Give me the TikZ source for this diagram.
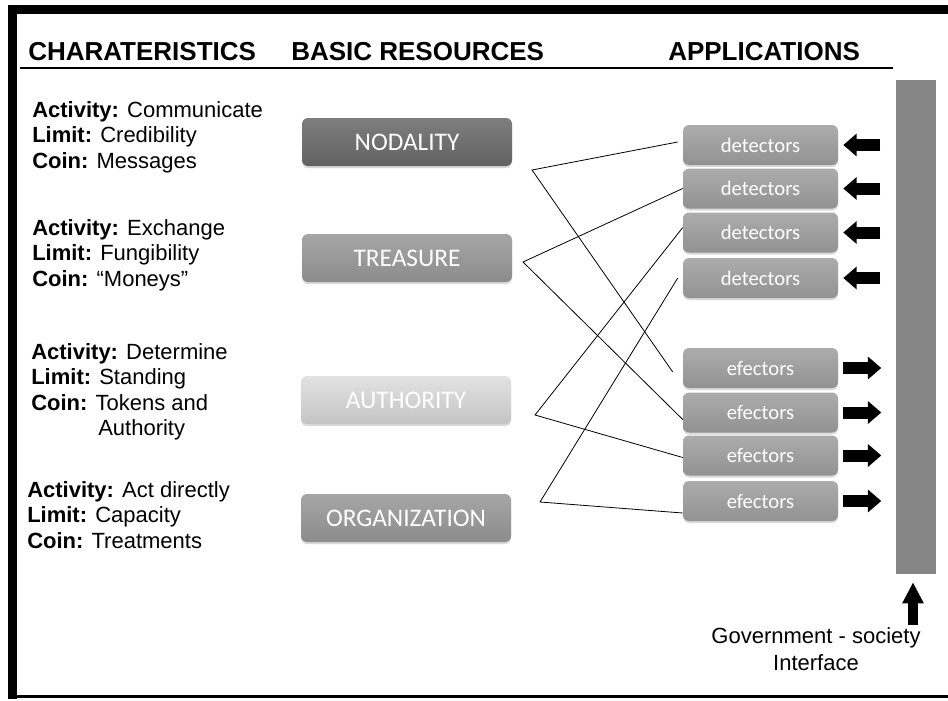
\documentclass[tikz,border=0pt]{standalone}
\usepackage{fontspec}
\setmainfont{Liberation Sans}
\newfontfamily\calfont{Carlito}
\usetikzlibrary{arrows.meta,shadows,calc}

\definecolor{barGray}{RGB}{134,134,134}
\definecolor{nodTop}{RGB}{126,126,126}
\definecolor{nodBot}{RGB}{98,98,98}
\definecolor{midTop}{RGB}{166,166,166}
\definecolor{midBot}{RGB}{140,140,140}
\definecolor{autTop}{RGB}{226,226,226}
\definecolor{autBot}{RGB}{196,196,196}
\definecolor{appTop}{RGB}{172,172,172}
\definecolor{appBot}{RGB}{146,146,146}

\tikzset{
  resbox/.style={rounded corners=4.5pt, minimum width=157.5pt, minimum height=36pt, inner sep=0pt, text=white,
    font=\calfont\fontsize{19}{22}\selectfont, drop shadow={shadow xshift=0pt, shadow yshift=-1.5pt, opacity=.3}},
  appbox/.style={rounded corners=4.5pt, minimum width=116.25pt, minimum height=30pt, inner sep=0pt, text=white,
    top color=appTop, bottom color=appBot, font=\calfont\fontsize{15.5}{18}\selectfont,
    drop shadow={shadow xshift=0pt, shadow yshift=-1.5pt, opacity=.3}},
  header/.style={anchor=base west, inner sep=0pt, font=\bfseries\fontsize{19.5}{22}\selectfont},
  charblock/.style={anchor=north west, inner sep=0pt, align=left, font=\fontsize{16.5}{19.1}\selectfont},
  blockarrow/.style={line width=9pt, -{Triangle[length=10pt,width=16.5pt]}},
  link/.style={line width=0.6pt},
}

\begin{document}
\begin{tikzpicture}[x=0.75pt,y=0.75pt,yscale=-1,xscale=1]
\useasboundingbox (0,0) rectangle (948,700);

%Shape: frame
\fill (8,5) rectangle (948,14) ;
\fill (8,5) rectangle (17,699) ;
\fill (8,695) rectangle (948,698) ;

% Headers
\node[header] (hchar) at (28,60) {CHARATERISTICS};
\node[header] (hres) at (291,60) {BASIC RESOURCES};
\node[header] (happ) at (668,60) {APPLICATIONS};
\draw[line width=1.5pt] (20,67.5) -- (893,67.5) ;

% Text Node
\node[charblock] (char1) at (32,101) {\textbf{Activity:} Communicate\\\textbf{Limit:} Credibility\\\textbf{Coin:} Messages};
% Text Node
\node[charblock] (char2) at (32,219) {\textbf{Activity:} Exchange\\\textbf{Limit:} Fungibility\\\textbf{Coin:} “Moneys”};
% Text Node
\node[charblock] (char3) at (31,343) {\textbf{Activity:} Determine\\\textbf{Limit:} Standing\\\textbf{Coin:} Tokens and\\\hspace*{50.25pt}Authority};
% Text Node
\node[charblock] (char4) at (27,481) {\textbf{Activity:} Act directly\\\textbf{Limit:} Capacity\\\textbf{Coin:} Treatments};

%Shape: resource boxes
\node[resbox, top color=nodTop, bottom color=nodBot] (nod) at (407,142) {NODALITY};
\node[resbox, top color=midTop, bottom color=midBot] (tre) at (407,258) {TREASURE};
\node[resbox, top color=autTop, bottom color=autBot] (aut) at (406,400) {AUTHORITY};
\node[resbox, top color=midTop, bottom color=midBot] (org) at (406,518) {ORGANIZATION};

%Shape: detectors and efectors
\node[appbox] (det1) at (760.5,145) {detectors};
\node[appbox] (det2) at (760.5,188.5) {detectors};
\node[appbox] (det3) at (760.5,232.5) {detectors};
\node[appbox] (det4) at (760.5,278) {detectors};
\node[appbox] (eff1) at (760.5,368) {efectors};
\node[appbox] (eff2) at (760.5,412.5) {efectors};
\node[appbox] (eff3) at (760.5,455.5) {efectors};
\node[appbox] (eff4) at (760.5,501) {efectors};

%Shape: interface bar
\node[fill=barGray, inner sep=0pt, minimum width=30pt, minimum height=370.5pt] (iface) at (916,327) {};

%Straight Lines
\coordinate (v1) at (532,170);
\coordinate (v2) at (523,262);
\coordinate (v3) at (535,415);
\coordinate (v4) at (540,502);
\draw[link] ($(det1.west)+(-5,-3)$) -- (v1) -- ($(eff1.west)+(-10,4)$) ;
\draw[link] (det2.west) -- (v2) -- ($(eff2.west)+(0,7)$) ;
\draw[link] ($(det3.west)+(0,-5)$) -- (v3) -- ($(eff3.west)+(0,2)$) ;
\draw[link] ($(det4.west)+(-5,0)$) -- (v4) -- ($(eff4.west)+(0,12)$) ;

% Arrows
\foreach \d in {1,2,3,4}
  \draw[blockarrow] ($(det\d.east)+(42,0)$) -- ($(det\d.east)+(5,0)$) ;
\foreach \e in {1,2,3,4}
  \draw[blockarrow] ($(eff\e.east)+(5,0)$) -- ($(eff\e.east)+(43,0)$) ;

\coordinate (gtail) at (913,625);
\draw[line width=7.5pt, -{Triangle[length=15.75pt,width=15pt]}] (gtail) -- ($(iface.south)+(-3,8)$) ;

% Text Node
\node[anchor=north, inner sep=0pt, align=center, font=\fontsize{16.5}{20.25}\selectfont] (gov) at (816,627) {Government - society\\Interface};

\end{tikzpicture}
\end{document}
